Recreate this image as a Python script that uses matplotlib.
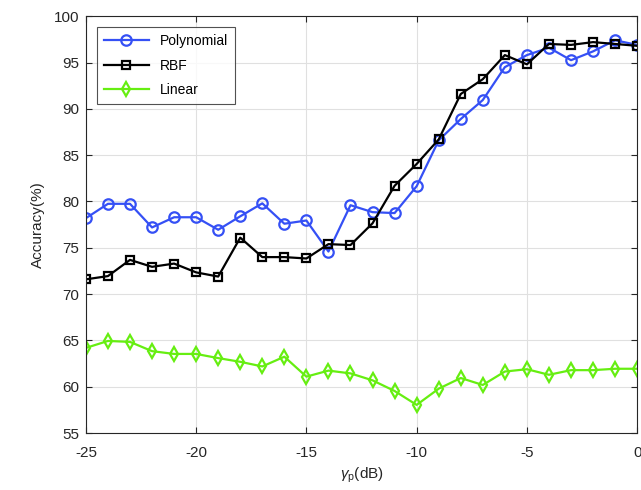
import matplotlib
matplotlib.use("Agg")
import matplotlib.pyplot as plt
import numpy as np

plt.rcParams['font.family'] = ['Liberation Sans', 'DejaVu Sans']
plt.rcParams['mathtext.fontset'] = 'custom'
plt.rcParams['mathtext.rm'] = 'Liberation Sans'
plt.rcParams['mathtext.it'] = 'Liberation Sans:italic'
plt.rcParams['axes.unicode_minus'] = False

snr_db = [-25, -24, -23, -22, -21, -20, -19, -18, -17, -16, -15, -14, -13,
          -12, -11, -10, -9, -8, -7, -6, -5, -4, -3, -2, -1, 0]
polynomial = [78.2, 79.75, 79.75, 77.2, 78.3, 78.3, 76.95, 78.4, 79.8, 77.6, 77.95, 74.6, 79.6,
              78.85, 78.75, 81.65, 86.6, 88.9, 90.95, 94.5, 95.8, 96.6, 95.25, 96.2, 97.4, 96.9]
rbf = [71.6, 71.95, 73.7, 72.95, 73.3, 72.35, 71.9, 76.1, 74.0, 74.0, 73.85, 75.4, 75.3,
       77.65, 81.7, 84.05, 86.7, 91.6, 93.2, 95.8, 94.8, 97.0, 96.9, 97.2, 97.0, 96.8]
linear = [64.2, 64.95, 64.85, 63.85, 63.55, 63.55, 63.1, 62.7, 62.2, 63.25, 61.1, 61.75, 61.45,
          60.7, 59.55, 58.05, 59.8, 60.95, 60.2, 61.65, 61.9, 61.3, 61.8, 61.8, 61.95, 61.95]

xticks = [-25, -20, -15, -10, -5, 0]
yticks = [55, 60, 65, 70, 75, 80, 85, 90, 95, 100]

fig = plt.figure(figsize=(6.41, 4.90), dpi=100)
ax = fig.add_axes([0.134, 0.116, 0.860, 0.851])

ax.plot(snr_db, polynomial, '-o', color='#3550f5', lw=1.6, ms=7.5, mfc='none', mew=1.6,
        label='Polynomial')
ax.plot(snr_db, rbf, '-s', color='black', lw=1.6, ms=6, mfc='none', mew=1.6, label='RBF')
ax.plot(snr_db, linear, '-d', color='#66ee11', lw=1.6, ms=7.5, mfc='none', mew=1.6, label='Linear')

ax.set_xlim(-25, 0)
ax.set_ylim(55, 100)
ax.set_xticks(xticks)
ax.set_yticks(yticks)
ax.grid(True, color='#e0e0e0', lw=0.8)
ax.set_axisbelow(True)
ax.tick_params(direction='in', top=True, right=True, labelsize=11, colors='#262626',
               length=4, width=0.8)
ax.tick_params(axis='x', pad=9)
ax.tick_params(axis='y', pad=5)
for s in ax.spines.values():
    s.set_color('#262626')
    s.set_linewidth(0.8)

ax.set_xlabel(r'$\gamma_\mathrm{p}$(dB)', fontsize=11, color='#262626', labelpad=4)
ax.set_ylabel('Accuracy(%)', fontsize=11, color='#262626', labelpad=6)

leg = ax.legend(loc='upper left', fontsize=10, frameon=True, fancybox=False,
                edgecolor='#262626', handlelength=3.2, borderpad=0.5, labelspacing=0.75,
                bbox_to_anchor=(0.008, 0.99))
leg.get_frame().set_linewidth(0.8)

fig.savefig('out.png', dpi=100)
